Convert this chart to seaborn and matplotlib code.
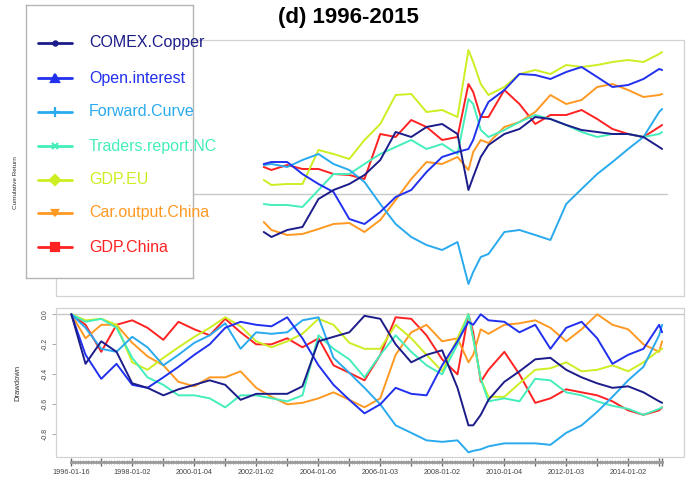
import numpy as np
import pandas as pd
import matplotlib
matplotlib.use("Agg")
import matplotlib.pyplot as plt
import matplotlib.dates as mdates
from matplotlib.patches import Rectangle
from matplotlib.lines import Line2D
from matplotlib.ticker import FixedLocator
import seaborn as sns

sns.set_theme(style="white")
plt.rcParams["font.family"] = ["Liberation Sans", "DejaVu Sans"]

# ---------------- data ----------------
series_names = ["COMEX.Copper", "Open.interest", "Forward.Curve", "Traders.report.NC",
                "GDP.EU", "Car.output.China", "GDP.China"]
series_colors = ["#1c1c8a", "#2030ee", "#2aaaee", "#44eebb", "#ccee22", "#ff9922", "#ff2222"]
series_markers = ["o", "^", "+", "x", "D", "v", "s"]

# cumulative return panel (visible part, right of the legend)
top_dates = ["2002-04-01", "2002-07-01", "2003-01-02", "2003-07-01", "2004-01-06", "2004-07-01",
             "2005-01-03", "2005-07-01", "2006-01-03", "2006-07-03", "2007-01-03", "2007-07-02",
             "2008-01-02", "2008-07-01", "2008-11-07", "2009-01-02", "2009-04-01", "2009-07-01",
             "2010-01-04", "2010-07-01", "2011-01-03", "2011-07-01", "2012-01-03", "2012-07-02",
             "2013-01-02", "2013-07-01", "2014-01-02", "2014-07-01", "2015-01-02", "2015-02-06"]
cum_comex = [-0.38, -0.43, -0.36, -0.33, -0.05, 0.04, 0.10, 0.19, 0.34, 0.62, 0.57, 0.67, 0.70, 0.60,
             0.04, 0.17, 0.37, 0.49, 0.60, 0.65, 0.77, 0.75, 0.69, 0.64, 0.62, 0.60, 0.60, 0.57, 0.47, 0.45]
cum_open = [0.30, 0.32, 0.32, 0.20, 0.10, 0.02, -0.25, -0.30, -0.18, -0.03, 0.04, 0.22, 0.37, 0.42,
            0.45, 0.54, 0.77, 0.92, 1.04, 1.20, 1.19, 1.15, 1.22, 1.27, 1.17, 1.07, 1.09, 1.15, 1.25, 1.24]
cum_forward = [0.29, 0.30, 0.27, 0.34, 0.40, 0.30, 0.24, 0.12, -0.10, -0.30, -0.43, -0.51, -0.56, -0.48,
               -0.90, -0.78, -0.63, -0.60, -0.38, -0.36, -0.41, -0.46, -0.10, 0.05, 0.20, 0.32, 0.45, 0.57, 0.82, 0.85]
cum_traders = [-0.10, -0.11, -0.11, -0.13, 0.04, 0.20, 0.20, 0.30, 0.40, 0.47, 0.54, 0.45, 0.50, 0.40,
               0.95, 0.90, 0.64, 0.57, 0.64, 0.72, 0.79, 0.75, 0.69, 0.62, 0.57, 0.60, 0.60, 0.57, 0.60, 0.62]
cum_gdp_eu = [0.14, 0.09, 0.10, 0.10, 0.44, 0.40, 0.35, 0.54, 0.70, 0.99, 1.00, 0.82, 0.84, 0.77,
              1.44, 1.32, 1.10, 0.99, 1.07, 1.20, 1.24, 1.20, 1.29, 1.27, 1.29, 1.32, 1.34, 1.32, 1.40, 1.42]
cum_car = [-0.28, -0.36, -0.41, -0.40, -0.35, -0.30, -0.29, -0.38, -0.26, -0.06, 0.15, 0.32, 0.30, 0.37,
           0.24, 0.42, 0.54, 0.51, 0.67, 0.72, 0.82, 0.99, 0.90, 0.94, 1.07, 1.10, 1.04, 0.97, 0.99, 1.00]
cum_gdp_china = [0.27, 0.24, 0.29, 0.25, 0.25, 0.20, 0.19, 0.15, 0.60, 0.57, 0.74, 0.67, 0.54, 0.57,
                 1.10, 1.02, 0.77, 0.77, 1.04, 0.90, 0.70, 0.79, 0.79, 0.84, 0.75, 0.65, 0.60, 0.57, 0.67, 0.69]

# drawdown panel
dd_dates = ["1996-01-16", "1996-07-01", "1997-01-02", "1997-07-01", "1998-01-02", "1998-07-01",
            "1999-01-04", "1999-07-01", "2000-01-04", "2000-07-03", "2001-01-02", "2001-07-02",
            "2002-01-02", "2002-07-01", "2003-01-02", "2003-07-01", "2004-01-06", "2004-07-01",
            "2005-01-03", "2005-07-01", "2006-01-03", "2006-07-03", "2007-01-03", "2007-07-02",
            "2008-01-02", "2008-07-01", "2008-11-07", "2009-01-02", "2009-04-01", "2009-07-01",
            "2010-01-04", "2010-07-01", "2011-01-03", "2011-07-01", "2012-01-03", "2012-07-02",
            "2013-01-02", "2013-07-01", "2014-01-02", "2014-07-01", "2015-01-02", "2015-02-06"]
dd_comex = [0, -0.33, -0.18, -0.25, -0.46, -0.49, -0.54, -0.50, -0.47, -0.44, -0.47, -0.57, -0.53, -0.53,
            -0.53, -0.48, -0.18, -0.15, -0.12, -0.01, -0.03, -0.20, -0.32, -0.27, -0.24, -0.49, -0.74, -0.74,
            -0.67, -0.57, -0.45, -0.38, -0.30, -0.29, -0.37, -0.42, -0.46, -0.49, -0.48, -0.52, -0.58, -0.59]
dd_open = [0, -0.27, -0.43, -0.33, -0.47, -0.49, -0.42, -0.35, -0.27, -0.20, -0.09, -0.05, -0.07, -0.08,
           -0.02, -0.16, -0.34, -0.47, -0.57, -0.66, -0.60, -0.49, -0.53, -0.54, -0.34, -0.18, -0.05, -0.07,
           0, -0.04, -0.05, -0.12, -0.07, -0.23, -0.09, -0.05, -0.16, -0.33, -0.27, -0.23, -0.07, -0.12]
dd_forward = [0, -0.09, -0.23, -0.25, -0.15, -0.22, -0.34, -0.27, -0.19, -0.14, -0.06, -0.23, -0.12, -0.13,
              -0.12, -0.04, -0.02, -0.29, -0.39, -0.49, -0.60, -0.74, -0.79, -0.84, -0.85, -0.84, -0.92, -0.91,
              -0.90, -0.88, -0.86, -0.86, -0.86, -0.87, -0.79, -0.74, -0.65, -0.55, -0.44, -0.35, -0.14, -0.07]
dd_traders = [0, -0.05, -0.03, -0.09, -0.29, -0.42, -0.47, -0.54, -0.54, -0.56, -0.62, -0.54, -0.54, -0.56,
              -0.58, -0.54, -0.14, -0.23, -0.30, -0.42, -0.27, -0.14, -0.25, -0.34, -0.40, -0.20, 0, -0.16,
              -0.43, -0.58, -0.56, -0.58, -0.43, -0.44, -0.52, -0.54, -0.58, -0.61, -0.63, -0.67, -0.63, -0.62]
dd_gdp_eu = [0, -0.04, -0.03, -0.07, -0.32, -0.37, -0.29, -0.22, -0.15, -0.09, -0.02, -0.08, -0.18, -0.22,
             -0.18, -0.13, -0.03, -0.07, -0.19, -0.23, -0.23, -0.07, -0.16, -0.27, -0.38, -0.16, 0, -0.16,
             -0.43, -0.55, -0.55, -0.46, -0.37, -0.36, -0.32, -0.38, -0.37, -0.34, -0.38, -0.32, -0.24, -0.23]
dd_car = [0, -0.16, -0.07, -0.07, -0.19, -0.28, -0.34, -0.45, -0.48, -0.42, -0.42, -0.38, -0.49, -0.55,
          -0.60, -0.59, -0.56, -0.52, -0.57, -0.62, -0.56, -0.27, -0.12, -0.07, -0.18, -0.16, -0.32, -0.27,
          -0.10, -0.13, -0.07, -0.06, -0.04, -0.09, -0.18, -0.10, 0, -0.07, -0.10, -0.20, -0.25, -0.18]
dd_gdp_china = [0, -0.07, -0.25, -0.07, -0.04, -0.09, -0.17, -0.05, -0.10, -0.14, -0.03, -0.12, -0.20, -0.20,
                -0.16, -0.22, -0.16, -0.34, -0.39, -0.44, -0.27, -0.02, -0.03, -0.14, -0.30, -0.40, 0, -0.12,
                -0.45, -0.37, -0.25, -0.40, -0.59, -0.56, -0.50, -0.52, -0.54, -0.58, -0.64, -0.67, -0.64, -0.62]

tick_dates = ["1996-01-16", "1997-01-02", "1998-01-02", "1999-01-04", "2000-01-04", "2001-01-02",
              "2002-01-02", "2003-01-02", "2004-01-06", "2005-01-03", "2006-01-03", "2007-01-03",
              "2008-01-02", "2009-01-02", "2010-01-04", "2011-01-03", "2012-01-03", "2013-01-02",
              "2014-01-02", "2015-01-02", "2015-02-06"]
tick_labels = ["1996-01-16", "", "1998-01-02", "", "2000-01-04", "", "2002-01-02", "", "2004-01-06", "",
               "2006-01-03", "", "2008-01-02", "", "2010-01-04", "", "2012-01-03", "", "2014-01-02", "", ""]
dd_ticks = [0.0, -0.2, -0.4, -0.6, -0.8]
dd_tick_labels = ["0.0", "-0.2", "-0.4", "-0.6", "-0.8"]

cum_values = [cum_comex, cum_open, cum_forward, cum_traders, cum_gdp_eu, cum_car, cum_gdp_china]
dd_values = [dd_comex, dd_open, dd_forward, dd_traders, dd_gdp_eu, dd_car, dd_gdp_china]

top_df = pd.concat([pd.DataFrame({"date": pd.to_datetime(top_dates), "value": v, "series": n})
                    for n, v in zip(series_names, cum_values)], ignore_index=True)
dd_df = pd.concat([pd.DataFrame({"date": pd.to_datetime(dd_dates), "value": v, "series": n})
                   for n, v in zip(series_names, dd_values)], ignore_index=True)
palette = dict(zip(series_names, series_colors))
draw_order = list(reversed(series_names))

# ---------------- figure ----------------
W, H = 694, 479
fig = plt.figure(figsize=(W / 100, H / 100), dpi=100)
fig.patch.set_facecolor("white")

def box(l, t, r, b):
    return [l / W, 1 - b / H, (r - l) / W, (b - t) / H]

xlim = (pd.Timestamp("1995-07-19"), pd.Timestamp("2015-10-22"))
grid_col = "#c8c8c8"
frame_col = "#d2d2d2"

# cumulative return panel
ax1 = fig.add_axes(box(56, 40, 684, 296))
ax1.axhline(0, xmin=0, xmax=(667 - 56) / 628, color=grid_col, lw=1.0, zorder=1)
sns.lineplot(data=top_df, x="date", y="value", hue="series", hue_order=draw_order,
             palette=palette, estimator=None, legend=False, lw=1.4, ax=ax1, zorder=3)
ax1.set_xlim(*xlim)
ax1.set_ylim(-1.02, 1.54)
ax1.set_xticks([])
ax1.set_yticks([])
ax1.set_xlabel("")
ax1.set_ylabel("")
for s in ax1.spines.values():
    s.set_visible(False)
ax1.add_patch(Rectangle((0, 0), 1, 1, transform=ax1.transAxes, fill=False, ec=frame_col, lw=0.9, clip_on=False))

# drawdown panel
ax2 = fig.add_axes(box(56, 308, 684, 457))
ax2.axhline(0, color=grid_col, lw=1.0, zorder=1)
sns.lineplot(data=dd_df, x="date", y="value", hue="series", hue_order=draw_order,
             palette=palette, estimator=None, legend=False, lw=1.4, ax=ax2, zorder=3)
ax2.set_xlim(*xlim)
ax2.set_ylim(-0.951, 0.042)
ax2.set_xlabel("")
ax2.set_ylabel("")
for k in ["top", "right", "left"]:
    ax2.spines[k].set_visible(False)
ax2.add_patch(Rectangle((0, 0), 1, 1, transform=ax2.transAxes, fill=False, ec=frame_col, lw=0.9, clip_on=False))
start_num = mdates.date2num(pd.Timestamp(dd_dates[0]))
end_num = mdates.date2num(pd.Timestamp(dd_dates[-1]))
ax2.spines["bottom"].set_position(("outward", 3.6))
ax2.spines["bottom"].set_color("#9a9a9a")
ax2.spines["bottom"].set_linewidth(2.0)
ax2.spines["bottom"].set_bounds(start_num, end_num)
ax2.set_xticks(mdates.date2num(pd.to_datetime(tick_dates)))
ax2.set_xticklabels(tick_labels)
month_ticks = mdates.date2num(pd.date_range("1996-02-01", "2015-02-01", freq="MS"))
ax2.xaxis.set_minor_locator(FixedLocator(month_ticks))
ax2.tick_params(axis="x", which="major", direction="inout", length=6, width=1.0, color="#666666",
                labelsize=5.2, labelcolor="#444444", pad=2, bottom=True)
ax2.tick_params(axis="x", which="minor", direction="inout", length=3, width=0.5, color="#8a8a8a", bottom=True)
ax2.set_yticks(dd_ticks)
ax2.set_yticklabels(dd_tick_labels, rotation=90, va="center")
ax2.tick_params(axis="y", direction="out", length=3, width=0.6, color="#999999", labelsize=5,
                labelcolor="#444444", pad=2, left=True)

# axis titles
fig.text(16 / W, 1 - 183 / H, "Cumulative Return", rotation=90, ha="center", va="center",
         fontsize=4.6, color="#333333")
fig.text(18 / W, 1 - 383 / H, "Drawdown", rotation=90, ha="center", va="center",
         fontsize=5.5, color="#333333")
fig.text(348 / W, 1 - 17 / H, "(d) 1996-2015", ha="center", va="center", fontsize=16,
         fontweight="bold", color="black")

# legend box
axl = fig.add_axes(box(26, 5, 193, 278))
axl.set_xlim(0, 167)
axl.set_ylim(273, 0)
axl.set_xticks([])
axl.set_yticks([])
axl.set_facecolor("white")
for s in axl.spines.values():
    s.set_color("#b5b5b5")
    s.set_linewidth(1.0)
row_y = [38, 73, 107, 141, 175, 208, 242]
msize = [3, 6, 7, 4, 5, 5, 6]
for name, col, mk, ms, yy in zip(series_names, series_colors, series_markers, msize, row_y):
    axl.add_line(Line2D([12, 46], [yy, yy], color=col, lw=2.0))
    axl.add_line(Line2D([29], [yy], color=col, marker=mk, markersize=ms, markeredgewidth=1.6))
    axl.text(63, yy, name, color=col, fontsize=11.5, va="center", ha="left")

fig.savefig("out.png", dpi=100, facecolor="white")
